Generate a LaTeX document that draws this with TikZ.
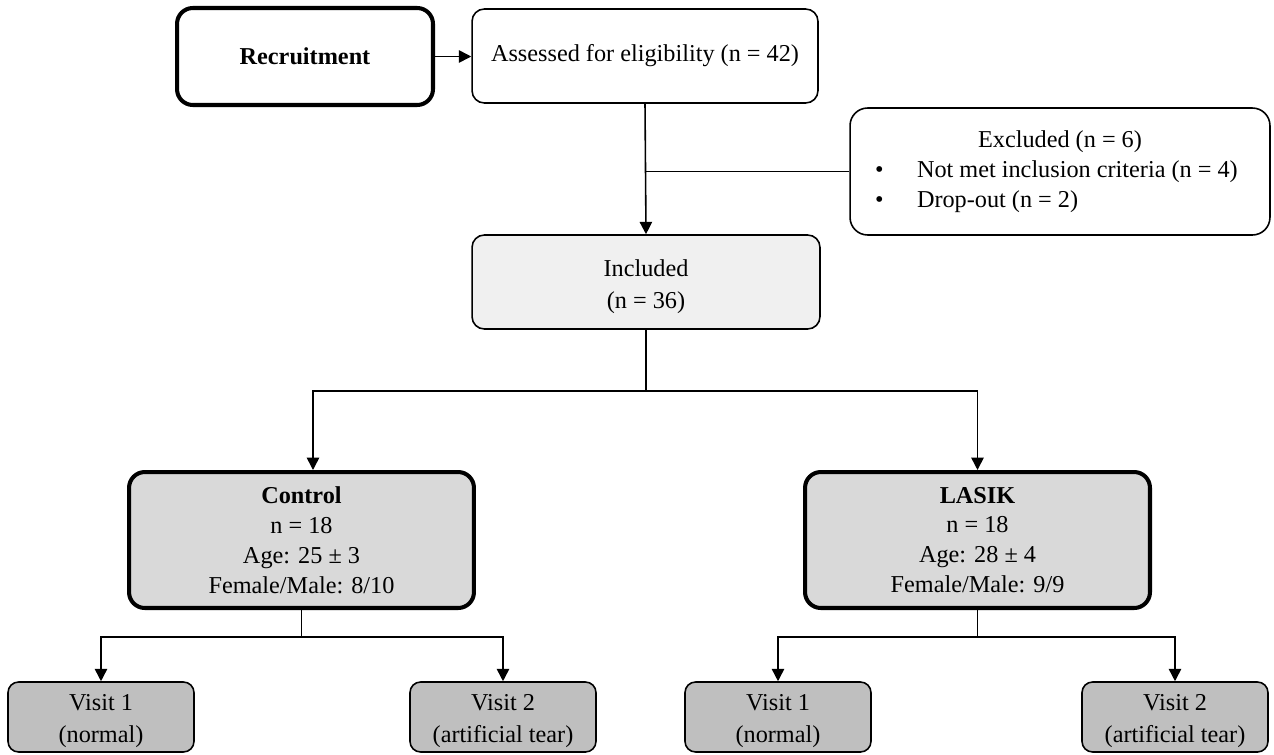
\documentclass[tikz,border=0pt]{standalone}
\usepackage{fontspec}
\setmainfont{Liberation Serif}
\usetikzlibrary{arrows.meta}
\definecolor{inclgray}{HTML}{F0F0F0}
\definecolor{armgray}{HTML}{D9D9D9}
\definecolor{visitgray}{HTML}{BFBFBF}
\tikzset{
  box/.style={draw, rounded corners=7pt, line width=0.9pt, align=center, inner sep=0pt,
    font=\fontsize{13.8}{17}\selectfont},
  thickbox/.style={box, line width=2.3pt, rounded corners=9pt},
  visitbox/.style={box, fill=visitgray, minimum width=3.72cm, minimum height=1.4cm, rounded corners=6pt,
    font=\fontsize{13.8}{18.2}\selectfont},
  arr/.style={-{Triangle[length=7pt,width=7pt]}, line width=0.9pt},
  link/.style={line width=0.9pt}
}
\newcommand{\bul}{\makebox[0.84cm][l]{\textbullet}}
\begin{document}
\begin{tikzpicture}[x=0.02cm,y=-0.02cm]
    \useasboundingbox (0,0) rectangle (1274,754);
    % top row
    \node [thickbox, minimum width=5.12cm, minimum height=1.94cm] (rec) at (305,56.5) {\textbf{Recruitment}};
    \node [box, minimum width=6.92cm, minimum height=1.88cm] (ass) at (645,56) {Assessed for eligibility (n = 42)};
    \node [box, rounded corners=10pt, minimum width=8.4cm, minimum height=2.54cm, align=left] (exc) at (1060,171.5) {%
      \makebox[7.4cm][c]{Excluded (n = 6)}\\
      \makebox[7.4cm][l]{\bul Not met inclusion criteria (n = 4)}\\
      \makebox[7.4cm][l]{\bul Drop-out (n = 2)}};
    \node [box, fill=inclgray, minimum width=6.96cm, minimum height=1.88cm,
      font=\fontsize{13.8}{18.2}\selectfont] (inc) at (646,282) {\rule{0pt}{15pt}Included\\(n = 36)};
    % groups
    \node [thickbox, fill=armgray, minimum width=6.9cm, minimum height=2.72cm] (ctl) at (301.5,540)
      {\textbf{Control}\\n = 18\\Age: 25 ± 3\\Female/Male: 8/10};
    \node [thickbox, fill=armgray, minimum width=6.9cm, minimum height=2.72cm] (las) at (977.5,540)
      {\textbf{LASIK}\\n = 18\\Age: 28 ± 4\\Female/Male: 9/9};
    % visits
    \node [visitbox] (cv1) at (101,717) {\rule{0pt}{14pt}Visit 1\\(normal)};
    \node [visitbox] (cv2) at (503,717) {\rule{0pt}{14pt}Visit 2\\(artificial tear)};
    \node [visitbox] (lv1) at (778,717) {\rule{0pt}{14pt}Visit 1\\(normal)};
    \node [visitbox] (lv2) at (1175,717) {\rule{0pt}{14pt}Visit 2\\(artificial tear)};
    % connectors
    \draw [arr] (rec.east) -- (rec.east -| ass.west);
    \draw [arr] (ass.south) -- (inc.north);
    \draw [link] (ass.south |- exc.west) -- (exc.west);
    \coordinate (split) at (646,391);
    \draw [link] (inc.south) -- (split);
    \draw [arr] (split) -| ([xshift=0.23cm]ctl.north);
    \draw [arr] (split) -| (las.north);
    \coordinate (csplit) at (301.5,637);
    \coordinate (lsplit) at (977.5,637);
    \draw [link] (ctl.south) -- (csplit);
    \draw [arr] (csplit) -| (cv1.north);
    \draw [arr] (csplit) -| (cv2.north);
    \draw [link] (las.south) -- (lsplit);
    \draw [arr] (lsplit) -| (lv1.north);
    \draw [arr] (lsplit) -| (lv2.north);
\end{tikzpicture}
\end{document}
